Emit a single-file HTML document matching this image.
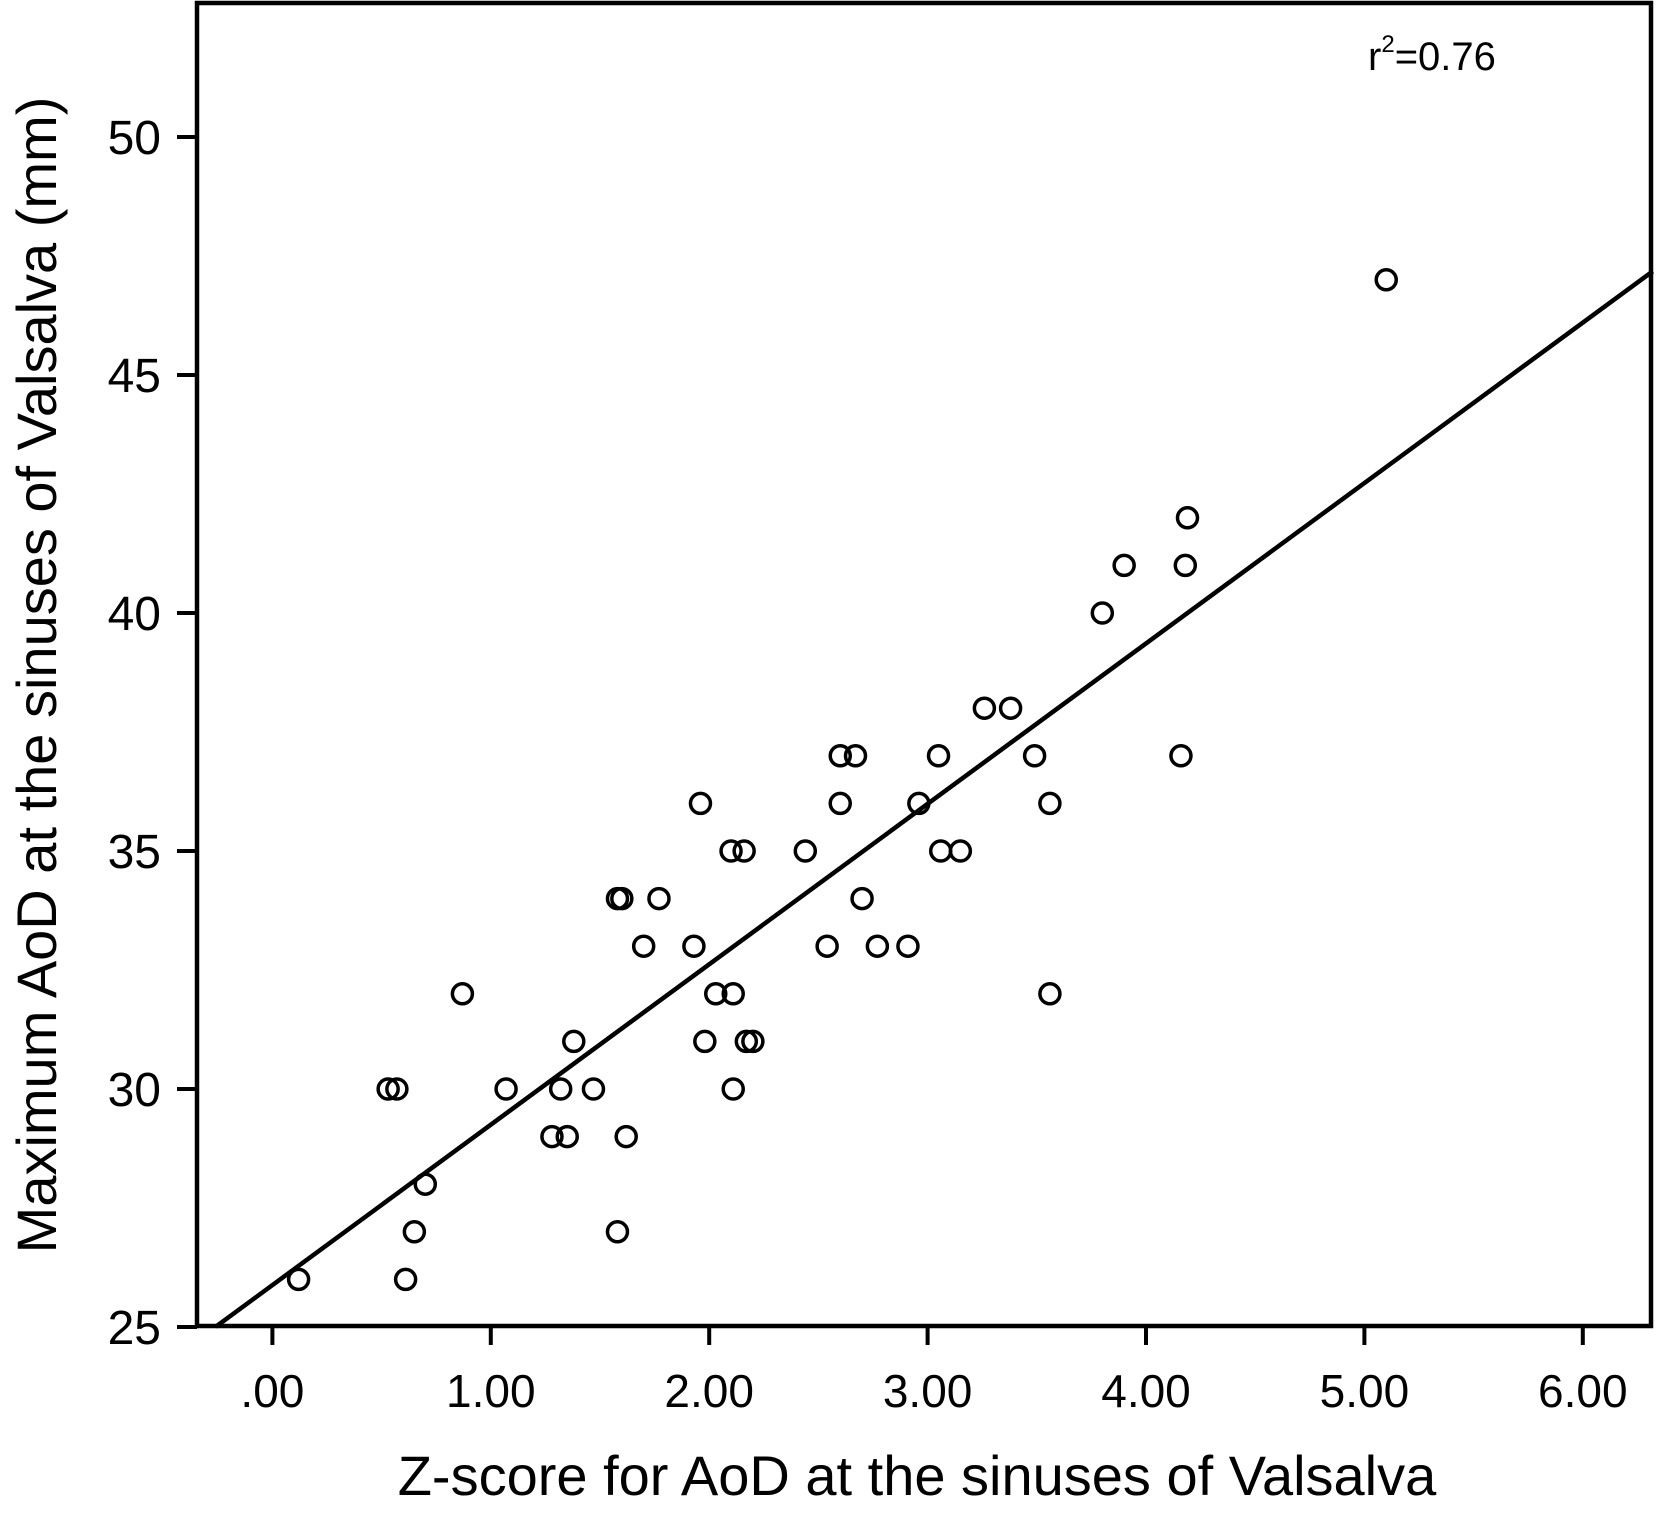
<!DOCTYPE html>
<html><head><meta charset="utf-8"><style>
html,body{margin:0;padding:0;background:#fff;}
svg{display:block;font-family:"Liberation Sans",Arial,sans-serif;}
</style></head><body>
<svg id="chart" width="1660" height="1521" viewBox="0 0 1660 1521" xmlns="http://www.w3.org/2000/svg">
<rect x="197" y="3" width="1454" height="1323" fill="none" stroke="#000" stroke-width="4.5"/>
<g id="xticks"></g>
<g id="yticks"></g>
<g id="marks"></g>
<text x="917" y="1495" font-size="56" text-anchor="middle">Z-score for AoD at the sinuses of Valsalva</text>
<text transform="translate(56,675) rotate(-90)" font-size="56" text-anchor="middle">Maximum AoD at the sinuses of Valsalva (mm)</text>
<text x="1368" y="70" font-size="40">r<tspan font-size="24" dy="-18">2</tspan><tspan dy="18">=0.76</tspan></text>
</svg>
<script>
const xTickValues=[0,1,2,3,4,5,6];
const xTickLabels=[".00","1.00","2.00","3.00","4.00","5.00","6.00"];
const yTickValues=[25,30,35,40,45,50];
const xValues=[0.12,0.61,0.65,0.70,0.53,0.57,0.87,1.07,1.28,1.35,1.32,1.38,1.47,1.58,1.62,1.58,1.60,1.70,1.77,1.93,1.96,1.98,2.03,2.11,2.11,2.10,2.16,2.17,2.20,2.44,2.54,2.60,2.67,2.60,2.70,2.77,2.91,2.96,3.05,3.06,3.15,3.26,3.38,3.49,3.56,3.56,3.80,3.90,4.16,4.18,4.19,5.10];
const yValues=[26,26,27,28,30,30,32,30,29,29,30,31,30,27,29,34,34,33,34,33,36,31,32,32,30,35,35,31,31,35,33,37,37,36,34,33,33,36,37,35,35,38,38,37,36,32,40,41,37,41,42,47];
const fitIntercept=25.88, fitSlope=3.37;
const fitRange=[-0.26,6.32];
const NS="http://www.w3.org/2000/svg";
function sx(v){return 272.4+v*218.4;}
function sy(v){return 1327-(v-25)*47.6;}
function mk(t,a,p){const e=document.createElementNS(NS,t);for(const k in a)e.setAttribute(k,a[k]);p.appendChild(e);return e;}
const gx=document.getElementById('xticks');
xTickValues.forEach((v,i)=>{
 const l=mk('line',{x1:sx(v),x2:sx(v),y1:1326,y2:1345,stroke:'#000','stroke-width':4},gx);
 
 
 const t=mk('text',{x:sx(v),y:1407,'font-size':46,'text-anchor':'middle'},gx);
 t.textContent=xTickLabels[i];
 
 
});
const gy=document.getElementById('yticks');
yTickValues.forEach(v=>{
 const l=mk('line',{x1:177,x2:197,y1:sy(v),y2:sy(v),stroke:'#000','stroke-width':4},gy);
 
 
 const t=mk('text',{x:161,y:sy(v)+17,'font-size':48,'text-anchor':'end'},gy);
 t.textContent=String(v);
 
 
});
const gm=document.getElementById('marks');
const fl=mk('line',{x1:sx(fitRange[0]),y1:sy(fitIntercept+fitSlope*fitRange[0]),x2:sx(fitRange[1]),y2:sy(fitIntercept+fitSlope*fitRange[1]),stroke:'#000','stroke-width':4.5},gm);


xValues.forEach((x,i)=>{
 const c=mk('circle',{cx:sx(x),cy:sy(yValues[i]),r:10,fill:'none',stroke:'#000','stroke-width':3.5},gm);
 
 
});
</script>
</body></html>
